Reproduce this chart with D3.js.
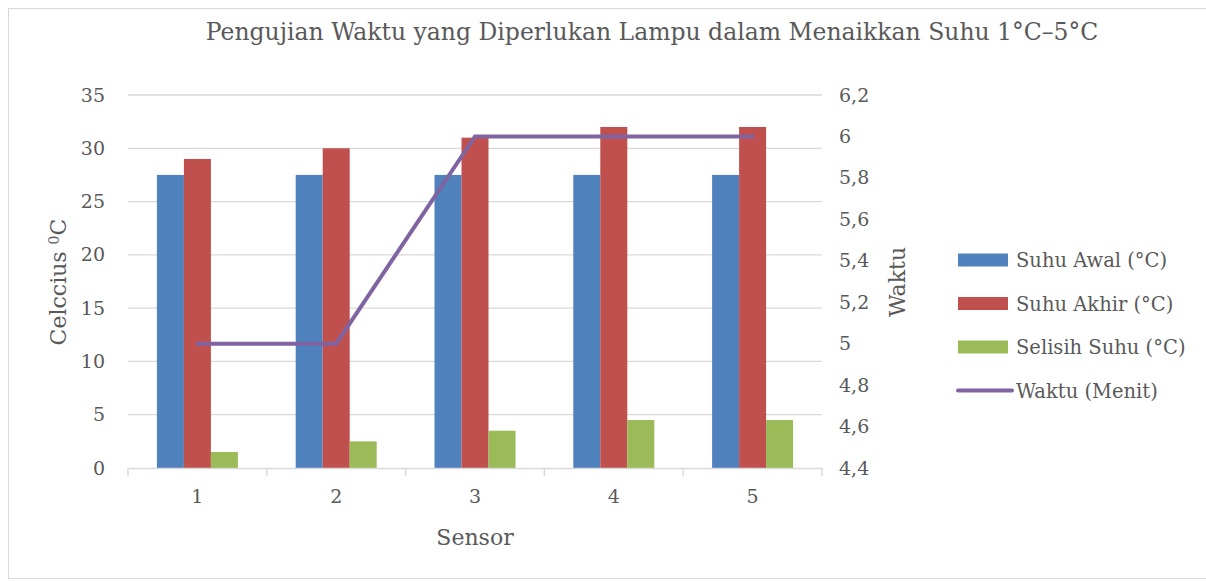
<!DOCTYPE html>
<html lang="id">
<head>
<meta charset="utf-8">
<script src="https://cdn.jsdelivr.net/npm/d3@7"></script>
<style>
  body { margin: 0; background: #fff; }
  text { font-family: "DejaVu Serif", "Liberation Serif", serif; fill: #595959; }
</style>
</head>
<body>
<div id="chart"></div>
<script>
  // data
  const sensors = ["1", "2", "3", "4", "5"];
  const suhuAwal = [27.5, 27.5, 27.5, 27.5, 27.5];
  const suhuAkhir = [29, 30, 31, 32, 32];
  const selisih = [1.5, 2.5, 3.5, 4.5, 4.5];
  const waktu = [5, 5, 6, 6, 6];
  const leftTicks = [0, 5, 10, 15, 20, 25, 30, 35];
  const rightTicks = [4.4, 4.6, 4.8, 5, 5.2, 5.4, 5.6, 5.8, 6, 6.2];

  const seriesNames = ["Suhu Awal (°C)", "Suhu Akhir (°C)", "Selisih Suhu (°C)"];
  const colors = ["#4F81BD", "#C0504D", "#9BBB59"];
  const lineColor = "#8064A2";

  const W = 1206, H = 581;
  const svg = d3.select("#chart").append("svg")
    .attr("width", W).attr("height", H);

  // outer chart border
  svg.append("rect").attr("x", 8.5).attr("y", 8.5)
    .attr("width", 1210).attr("height", 570)
    .attr("fill", "none").attr("stroke", "#d9d9d9");

  const plot = {left: 128, right: 822, top: 95, bottom: 468};

  const x = d3.scaleBand().domain(sensors).range([plot.left, plot.right]);
  const xInner = d3.scaleBand().domain(d3.range(3))
    .range([0, x.bandwidth()]).paddingOuter(1.07);
  const y = d3.scaleLinear().domain([0, 35]).range([plot.bottom, plot.top]);
  const y2 = d3.scaleLinear().domain([4.4, 6.2]).range([plot.bottom, plot.top]);

  // gridlines
  svg.append("g").selectAll("line").data(leftTicks.filter(d => d > 0)).enter()
    .append("line")
    .attr("x1", plot.left).attr("x2", plot.right)
    .attr("y1", d => y(d)).attr("y2", d => y(d))
    .attr("stroke", "#d9d9d9").attr("stroke-width", 1.3);

  // bars
  const groups = [suhuAwal, suhuAkhir, selisih];
  groups.forEach((vals, si) => {
    svg.append("g").selectAll("rect").data(vals).enter()
      .append("rect")
      .attr("x", (d, i) => x(sensors[i]) + xInner(si))
      .attr("width", xInner.bandwidth())
      .attr("y", d => y(d))
      .attr("height", d => y(0) - y(d))
      .attr("fill", colors[si]);
  });

  // x axis
  const xAxis = svg.append("g").attr("transform", "translate(0," + plot.bottom + ")")
    .call(d3.axisBottom(x).tickSize(0).tickPadding(22));
  xAxis.select(".domain").attr("stroke", "#d9d9d9").attr("stroke-width", 1.5);
  xAxis.selectAll("text").style("font-size", "19px").attr("fill", "#595959");
  svg.append("g").selectAll("line")
    .data(sensors.map(s => x(s)).concat([plot.right])).enter()
    .append("line")
    .attr("x1", d => d).attr("x2", d => d)
    .attr("y1", plot.bottom).attr("y2", plot.bottom + 8)
    .attr("stroke", "#d9d9d9").attr("stroke-width", 1.5);

  // left axis
  const yAxis = svg.append("g").attr("transform", "translate(" + (plot.left - 20) + ",0)")
    .call(d3.axisLeft(y).tickValues(leftTicks).tickSize(0));
  yAxis.select(".domain").remove();
  yAxis.selectAll("text").style("font-size", "19px").attr("fill", "#595959");

  // right axis
  const fmt = d => d3.format("~g")(d).replace(".", ",");
  const y2Axis = svg.append("g").attr("transform", "translate(" + (plot.right + 14) + ",0)")
    .call(d3.axisRight(y2).tickValues(rightTicks).tickFormat(fmt).tickSize(0));
  y2Axis.select(".domain").remove();
  y2Axis.selectAll("text").style("font-size", "19px").attr("fill", "#595959");

  // line series
  svg.append("path").datum(waktu)
    .attr("fill", "none").attr("stroke", lineColor)
    .attr("stroke-width", 4).attr("stroke-linecap", "round")
    .attr("d", d3.line()
      .x((d, i) => x(sensors[i]) + x.bandwidth() / 2)
      .y(d => y2(d)));

  // title
  svg.append("text").attr("x", 652).attr("y", 40)
    .attr("text-anchor", "middle").style("font-size", "23.5px")
    .text("Pengujian Waktu yang Diperlukan Lampu dalam Menaikkan Suhu 1°C–5°C");

  // axis titles
  const lt = svg.append("text")
    .attr("transform", "translate(66,282) rotate(-90)")
    .attr("text-anchor", "middle").style("font-size", "22px");
  lt.append("tspan").text("Celccius ");
  lt.append("tspan").attr("dy", -7).style("font-size", "14px").text("0");
  lt.append("tspan").attr("dy", 7).text("C");

  svg.append("text")
    .attr("transform", "translate(905,282) rotate(-90)")
    .attr("text-anchor", "middle").style("font-size", "22px")
    .text("Waktu");

  svg.append("text").attr("x", 475).attr("y", 545)
    .attr("text-anchor", "middle").style("font-size", "22px")
    .text("Sensor");

  // legend
  const legendNames = seriesNames.concat(["Waktu (Menit)"]);
  const leg = svg.append("g").selectAll("g").data(legendNames).enter()
    .append("g").attr("transform", (d, i) => "translate(958," + (260 + i * 43.5) + ")");
  leg.each(function (d, i) {
    const g = d3.select(this);
    if (i < 3) {
      g.append("rect").attr("x", 0).attr("y", -6.5).attr("width", 50).attr("height", 13)
        .attr("fill", colors[i]);
    } else {
      g.append("line").attr("x1", 0).attr("x2", 54).attr("y1", 0).attr("y2", 0)
        .attr("stroke", lineColor).attr("stroke-width", 4).attr("stroke-linecap", "round");
    }
    g.append("text").attr("x", 58).attr("y", 7).style("font-size", "19.5px").text(d);
  });
</script>
</body>
</html>
